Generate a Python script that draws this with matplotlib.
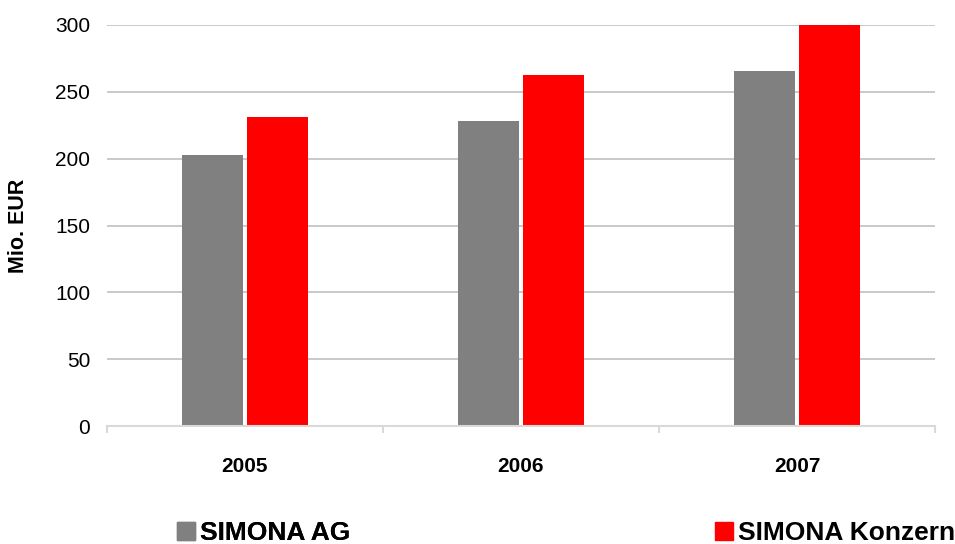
import matplotlib.pyplot as plt
import numpy as np
from matplotlib.patches import Patch

plt.rcParams["font.family"] = ["Liberation Sans", "DejaVu Sans"]

years = ["2005", "2006", "2007"]
simona_ag = [202.7, 228.2, 265.6]
simona_konzern = [231.2, 262.6, 300.0]
series_names = ["SIMONA AG", "SIMONA Konzern"]

GREY = "#808080"
RED = "#ff0000"
GRID = "#c0c0c0"
AXIS = "#d9d9d9"

fig = plt.figure(figsize=(9.55, 5.44), dpi=100, facecolor="white")
ax = fig.add_axes([107 / 955, 118 / 544, 828 / 955, 401 / 544])

x = np.arange(len(years))
width = 0.221
gap = 0.018
offset = width / 2 + gap / 2
ax.bar(x - offset, simona_ag, width, color=GREY, zorder=2)
ax.bar(x + offset, simona_konzern, width, color=RED, zorder=2)

ax.set_xlim(-0.5, len(years) - 0.5)
ax.set_ylim(0, 300)
ax.set_yticks(np.arange(0, 301, 50))
ax.yaxis.grid(True, color=GRID, lw=1.2, zorder=0)
ax.set_axisbelow(True)

for side in ("top", "right", "left"):
    ax.spines[side].set_visible(False)
ax.spines["bottom"].set_color(AXIS)
ax.spines["bottom"].set_linewidth(1.5)

# year labels in the middle, small ticks on the category boundaries
ax.set_xticks(x)
ax.set_xticklabels(years, fontsize=15, fontweight="bold")
ax.set_xticks(np.arange(-0.5, len(years), 1.0), minor=True)
ax.tick_params(axis="x", which="major", length=0, pad=22)
ax.tick_params(axis="x", which="minor", length=5, width=1.5, color=AXIS)
ax.tick_params(axis="y", length=0, pad=12, labelsize=15)

ax.set_ylabel("Mio. EUR", fontsize=15.5, fontweight="bold")
ax.yaxis.set_label_coords(-0.094, 0.5)

legend_kw = dict(
    frameon=False,
    handlelength=0.68,
    handleheight=0.68,
    handletextpad=0.2,
    borderpad=0,
    borderaxespad=0,
    prop={"weight": "bold", "size": 19},
)
leg1 = fig.legend(
    handles=[Patch(color=GREY, label=series_names[0])],
    loc="center left",
    bbox_to_anchor=(177 / 955, 1 - 533 / 544),
    **legend_kw,
)
fig.legend(
    handles=[Patch(color=RED, label=series_names[1])],
    loc="center left",
    bbox_to_anchor=(715 / 955, 1 - 533 / 544),
    **legend_kw,
)
fig.add_artist(leg1)

fig.savefig("out.png", dpi=100, facecolor="white")
